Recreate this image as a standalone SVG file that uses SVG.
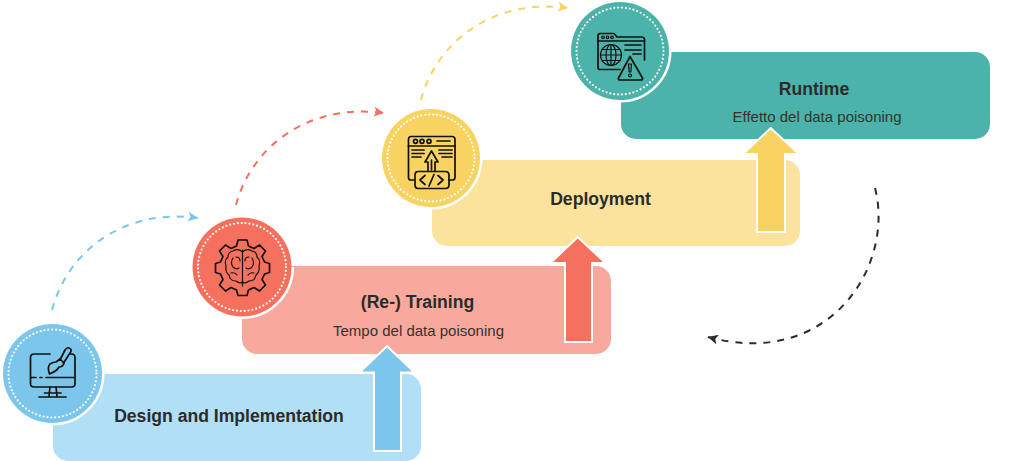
<svg xmlns="http://www.w3.org/2000/svg" width="1024" height="461" viewBox="0 0 1024 461">
<style>
.t{font-family:"Liberation Sans",Arial,sans-serif;font-weight:700;font-size:17.6px;fill:#2b2b2b;text-anchor:middle}
.s{font-family:"Liberation Sans",Arial,sans-serif;font-size:15px;fill:#333;text-anchor:middle}
.dot{fill:none;stroke:#fff;stroke-width:2.2;stroke-linecap:round;stroke-dasharray:0 3.9}
.rim{fill:none;stroke:#fff;stroke-width:2.5}
.ar{stroke:#fff;stroke-width:4;paint-order:stroke;stroke-linejoin:miter}
.ic{fill:none;stroke:#111;stroke-width:1.7;stroke-linecap:round;stroke-linejoin:round}
.ic2{fill:none;stroke:#111;stroke-width:1.2;stroke-linecap:round;stroke-linejoin:round}
.d{fill:none;stroke-width:2;stroke-dasharray:7 7}
</style>
<defs>
<marker id="mb" markerUnits="userSpaceOnUse" markerWidth="12" markerHeight="10" refX="10" refY="5" orient="auto"><path d="M0 0L10 5L0 10L2.500 5Z" fill="#7cc6ec"/></marker>
<marker id="mr" markerUnits="userSpaceOnUse" markerWidth="12" markerHeight="10" refX="10" refY="5" orient="auto"><path d="M0 0L10 5L0 10L2.500 5Z" fill="#f6705e"/></marker>
<marker id="my" markerUnits="userSpaceOnUse" markerWidth="12" markerHeight="10" refX="10" refY="5" orient="auto"><path d="M0 0L10 5L0 10L2.500 5Z" fill="#f9d361"/></marker>
<marker id="mk" markerUnits="userSpaceOnUse" markerWidth="12" markerHeight="10" refX="10" refY="5" orient="auto"><path d="M0 0L10 5L0 10L2.500 5Z" fill="#2b2b2b"/></marker>
</defs>

<g id="connectors">
<path class="d" stroke="#7cc6ec" marker-end="url(#mb)" d="M52 310C68 250 125 208 198 218"/>
<path class="d" stroke="#f6705e" marker-end="url(#mr)" d="M236 205C252 145 310 103 384 113"/>
<path class="d" stroke="#f9d361" marker-end="url(#my)" d="M421 100C437 40 495 -2 568 8"/>
<path class="d" stroke="#2b2b2b" marker-end="url(#mk)" d="M875 188C895 265 830 370 708 337"/>
</g>

<g id="node-design">
<rect x="53" y="374" width="368" height="87" rx="15" fill="#b0dff6"/>
<circle cx="52.500" cy="373.500" r="49.500" fill="#7cc6ec"/>
<path class="rim" d="M103.300 373.500A50.800 50.800 0 0 1 52.500 424.300"/>
<circle class="dot" cx="52.500" cy="373.500" r="44"/>
<g class="ic">
<path d="M50 354H34Q30.500 354 30.500 357.500V383.500Q30.500 387 34 387H71.500Q75 387 75 383.500V357.500Q75 354 71.500 354H70"/>
<path d="M31 377.500H36M40 377.500H42M46 377.500H74"/>
<path d="M50 387L49 396M56 387L57 396M44.500 393H61M39 397H66"/>
<path d="M60 360L65 350Q67 347 69 348L70.500 349Q72 351 70 353L63.500 363"/>
<path d="M60 359L64 363Q63 367 59 367Q57 371 49.500 374Q47 367 50 364Q53 362 56 362Z"/>
</g>
<text class="t" x="229" y="422">Design and Implementation</text>
</g>

<g id="node-training">
<rect x="242" y="266" width="369" height="88" rx="15" fill="#f8a99e"/>
<circle cx="242" cy="267" r="49.500" fill="#f6705e"/>
<path class="rim" d="M292.800 267A50.800 50.800 0 0 1 242 317.800"/>
<circle class="dot" cx="242" cy="267" r="44"/>
<g class="ic">
<path d="M238 240H247L248.500 246L254 248.500L259.500 245L265.500 251L262 256.500L264.500 262L269.500 263.500V272.500L264.500 274L262 279.500L265.500 285L259.500 291L254 287.500L248.500 290L247 295.500H238L236.500 290L231 287.500L225.500 291L219.500 285L223 279.500L220.500 274L215.500 272.500V263.500L220.500 262L223 256.500L219.500 251L225.500 245L231 248.500L236.500 246Z"/>
</g>
<g class="ic2">
<path d="M242.500 250V286M242.500 252Q238 248 233 251Q228 252 228 257Q224 260 226 266Q225 272 229 275Q230 281 236 281Q240 284 242.500 282M242.500 252Q247 248 252 251Q257 252 257 257Q261 260 259 266Q260 272 256 275Q255 281 249 281Q245 284 242.500 282"/>
<path d="M233 258Q230 263 233 267Q236 270 239 268M236 257Q240 257 240 261M231 273Q235 272 237 275M252 258Q255 263 252 267Q249 270 246 268M249 257Q245 257 245 261M254 273Q250 272 248 275"/>
</g>
<text class="t" x="417.500" y="308">(Re-) Training</text>
<text class="s" x="418.500" y="336">Tempo del data poisoning</text>
</g>

<g id="node-deployment">
<rect x="432" y="160" width="368" height="86" rx="15" fill="#fbe39e"/>
<circle cx="431" cy="158" r="49" fill="#f9d361"/>
<path class="rim" d="M481.300 158A50.300 50.300 0 0 1 431 208.300"/>
<circle class="dot" cx="431" cy="158" r="43.500"/>
<g class="ic">
<path d="M414 180H411Q408.500 180 408.500 177.500V139.500Q408.500 136.500 411 136.500H452Q455 136.500 455 139.500V177.500Q455 180 452 180H449"/>
<path d="M408.500 146H455M437 141H450M412 150H424M412 153.500H424M412 157H421M439 150H452M439 153.500H452M442 157H452"/>
<circle cx="415.500" cy="141.300" r="2"/><circle cx="422" cy="141.300" r="2"/><circle cx="429" cy="141.300" r="2"/>
<path d="M428 171V162H425L431.500 151L438 162H435V171M431.500 160V170"/>
<path d="M418 171.500H445Q449 171.500 449 175V185Q449 188.500 445 188.500H418Q415 188.500 415 185V175Q415 171.500 418 171.500Z"/>
<path d="M425 175.500L420 180L425 184.500M438 175.500L443 180L438 184.500M434 174.500L429 186"/>
</g>
<text class="t" x="600.500" y="205">Deployment</text>
</g>

<g id="node-runtime">
<rect x="621" y="52" width="369" height="87" rx="15" fill="#4bb3a9"/>
<circle cx="620" cy="51" r="49" fill="#4bb3a9"/>
<path class="rim" d="M670.300 51A50.300 50.300 0 0 1 620 101.300"/>
<circle class="dot" cx="620" cy="51" r="43.500"/>
<g class="ic">
<path d="M620 69.500H600Q598 69.500 598 67V36Q598 33.500 600 33.500H614L617 37H642Q644 37 644.500 39V60"/>
<path d="M598 41H644"/>
<path d="M625 45H641M625 50H641M633 54H641"/>
<path d="M630 56.500L642.500 78Q643 80 641 80H620Q618 80 618.500 78Z"/>
</g>
<g class="ic2">
<circle cx="611" cy="55" r="10.500"/>
<ellipse cx="611" cy="55" rx="5" ry="10.500"/>
<path d="M611 44.500V65.500M600.500 55H621.500M602 49.500H620M602 60.500H620"/>
<circle cx="603" cy="37.300" r="1.300"/><circle cx="607.500" cy="37.300" r="1.300"/><circle cx="612" cy="37.300" r="1.300"/>
<path d="M628.500 64H631.500L630.800 72H629.200Z"/><circle cx="630" cy="75.500" r="1.500"/>
</g>
<text class="t" x="814" y="95">Runtime</text>
<text class="s" x="817" y="122">Effetto del data poisoning</text>
</g>

<g id="arrow-blue"><path class="ar" fill="#7cc6ec" d="M387 347.500L412 371.500H400V450H375V371.500H362Z"/></g>
<g id="arrow-red"><path class="ar" fill="#f6705e" d="M577.700 238.500L603 262H591V341H566V262H553Z"/></g>
<g id="arrow-yellow"><path class="ar" fill="#f9d361" d="M770.700 129.500L796.500 153H784V231H758V153H745.500Z"/></g>
</svg>
